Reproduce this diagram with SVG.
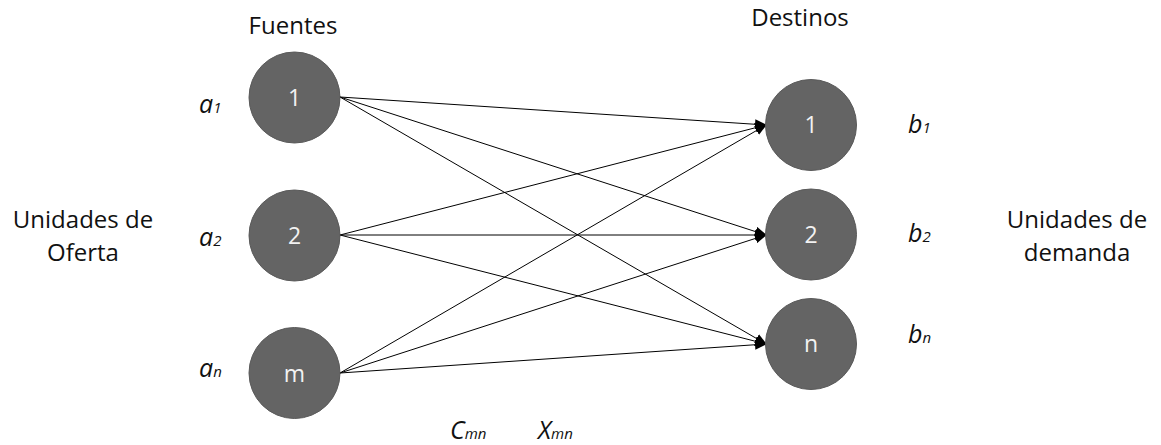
<svg xmlns="http://www.w3.org/2000/svg" width="1161" height="445" viewBox="0 0 1161 445">
<style>
.node{fill:#646464;stroke:#5a5a5a;stroke-width:1}
.nt{font-family:"Open Sans",Lato,sans-serif;font-size:23px;fill:#f2f2f2;text-anchor:middle}
.lbl{font-family:"Open Sans",Lato,sans-serif;font-size:24px;fill:#111;text-anchor:middle}
.it{font-family:"Open Sans",Lato,sans-serif;font-size:25px;font-style:italic;fill:#111}
.sub{font-size:15px}
.edge{stroke:#000;stroke-width:1;fill:none;marker-end:url(#arr)}
</style>
<defs>
<marker id="arr" markerWidth="12" markerHeight="10" refX="11" refY="5" orient="auto" markerUnits="userSpaceOnUse">
<path d="M0,0 L12,5 L0,10 z" fill="#000"/>
</marker>
</defs>
<rect width="1161" height="445" fill="#fff"/>
<g id="edges">
<line class="edge" x1="340" y1="97" x2="766" y2="125"/>
<line class="edge" x1="340" y1="97" x2="766" y2="235"/>
<line class="edge" x1="340" y1="97" x2="766" y2="344"/>
<line class="edge" x1="340" y1="235" x2="766" y2="125"/>
<line class="edge" x1="340" y1="235" x2="766" y2="235"/>
<line class="edge" x1="340" y1="235" x2="766" y2="344"/>
<line class="edge" x1="340" y1="373" x2="766" y2="125"/>
<line class="edge" x1="340" y1="373" x2="766" y2="235"/>
<line class="edge" x1="340" y1="373" x2="766" y2="344"/>
</g>
<g id="s1"><circle class="node" cx="294.5" cy="97.5" r="45.5"/><text class="nt" x="294.5" y="106">1</text></g>
<g id="s2"><circle class="node" cx="294.5" cy="235.5" r="45.5"/><text class="nt" x="294.5" y="244">2</text></g>
<g id="sm"><circle class="node" cx="294.5" cy="373" r="45.5"/><text class="nt" x="294.5" y="382">m</text></g>
<g id="d1"><circle class="node" cx="811" cy="125" r="45.5"/><text class="nt" x="811" y="133">1</text></g>
<g id="d2"><circle class="node" cx="811" cy="234.5" r="45.5"/><text class="nt" x="811" y="243">2</text></g>
<g id="dn"><circle class="node" cx="811" cy="344" r="45.5"/><text class="nt" x="811" y="352">n</text></g>
<g id="labels">
<text class="lbl" x="293" y="34">Fuentes</text>
<text class="lbl" x="800" y="26">Destinos</text>
<text class="lbl" x="83" y="228">Unidades de</text>
<text class="lbl" x="83" y="261">Oferta</text>
<text class="lbl" x="1077" y="228">Unidades de</text>
<text class="lbl" x="1077" y="261">demanda</text>
<text class="it" x="199" y="113">a<tspan class="sub">1</tspan></text>
<text class="it" x="199" y="246">a<tspan class="sub">2</tspan></text>
<text class="it" x="199" y="377">a<tspan class="sub">n</tspan></text>
<text class="it" x="908" y="133">b<tspan class="sub">1</tspan></text>
<text class="it" x="908" y="242">b<tspan class="sub">2</tspan></text>
<text class="it" x="908" y="343">b<tspan class="sub">n</tspan></text>
<text class="it" x="450" y="439">C<tspan class="sub">mn</tspan></text>
<text class="it" x="538" y="439">X<tspan class="sub">mn</tspan></text>
</g>
</svg>
